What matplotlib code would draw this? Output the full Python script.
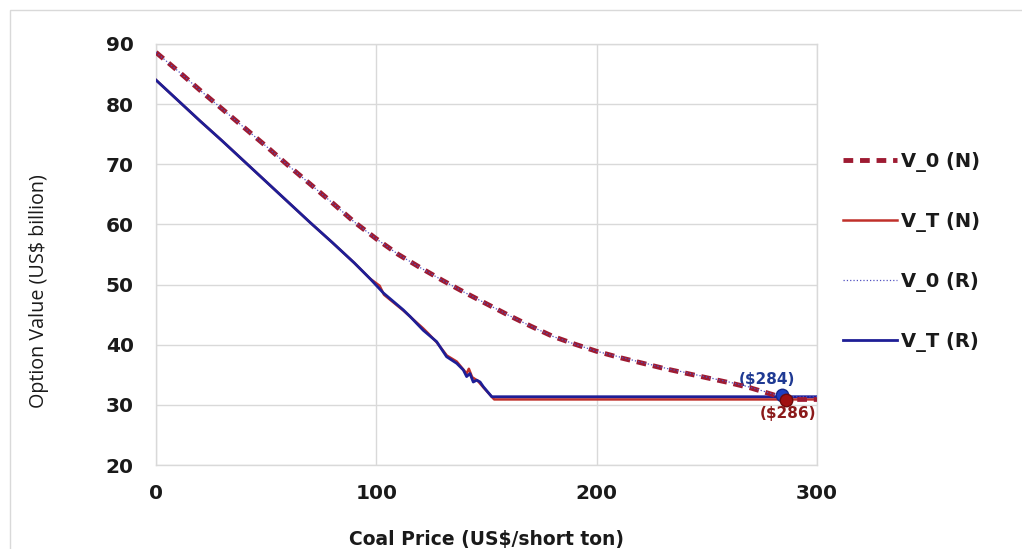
import matplotlib
matplotlib.use("Agg")
import matplotlib.pyplot as plt
from matplotlib.patches import Rectangle

# option value vs coal price
price_v0_n = [0, 10, 20, 30, 40, 50, 60, 70, 80, 90, 100, 110, 120, 130, 140, 150,
              160, 170, 180, 190, 200, 210, 220, 230, 240, 250, 260, 270, 280, 286, 300]
v0_n = [88.6, 85.5, 82.3, 79.2, 76.1, 73.0, 69.8, 66.7, 63.6, 60.4, 57.6, 55.0, 52.8,
        50.7, 48.7, 46.8, 44.9, 43.1, 41.4, 40.1, 38.9, 37.9, 37.0, 36.1, 35.3, 34.5,
        33.7, 32.8, 31.7, 30.9, 30.9]

price_v0_r = [0, 10, 20, 30, 40, 50, 60, 70, 80, 90, 100, 110, 120, 130, 140, 150,
              160, 170, 180, 190, 200, 210, 220, 230, 240, 250, 260, 270, 280, 284, 300]
v0_r = [88.6, 85.5, 82.3, 79.2, 76.1, 73.0, 69.8, 66.7, 63.6, 60.4, 57.6, 55.0, 52.8,
        50.7, 48.7, 46.8, 44.9, 43.1, 41.4, 40.1, 38.9, 38.0, 37.1, 36.2, 35.4, 34.6,
        33.8, 32.9, 31.8, 31.35, 31.35]

price_vt_n = [0, 10, 20, 30, 40, 50, 60, 70, 80, 90, 97.1, 101.5, 103.5, 112.2, 121.3,
              123.5, 127.4, 132.0, 136.5, 139.0, 141.0, 142.0, 143.5, 146.0, 148.6, 153.5, 300]
vt_n = [84.0, 80.6, 77.2, 73.9, 70.5, 67.1, 63.7, 60.3, 57.0, 53.6, 51.0, 49.8, 48.3,
        45.7, 42.7, 41.9, 40.4, 38.2, 37.2, 36.1, 35.2, 36.0, 34.6, 34.0, 32.9, 30.9, 30.9]

price_vt_r = [0, 10, 20, 30, 40, 50, 60, 70, 80, 90, 97.1, 103.2, 112.2, 115.3, 121.3,
              127.4, 131.9, 136.5, 139.5, 141.0, 142.5, 144.0, 145.6, 147.1, 148.6, 152.4, 300]
vt_r = [84.0, 80.6, 77.2, 73.9, 70.5, 67.1, 63.7, 60.3, 57.0, 53.6, 51.0, 48.6, 45.8,
        44.7, 42.4, 40.5, 38.0, 36.9, 35.8, 34.7, 35.2, 33.8, 34.1, 33.8, 33.0, 31.35, 31.35]

# trigger points
trig_r = (284, 31.6)
trig_n = (286, 30.8)

fig = plt.figure(figsize=(10.22, 5.49), dpi=100)
ax = fig.add_axes([0.1526, 0.153, 0.6468, 0.767])

ax.plot(price_vt_n, vt_n, color='#C0302A', lw=1.8, label='V_T (N)', zorder=3)
ax.plot(price_vt_r, vt_r, color='#1E1E96', lw=2.0, label='V_T (R)', zorder=4)
ax.plot(price_v0_n, v0_n, color='#9E1B32', lw=3.5, dashes=(2.0, 1.4), label='V_0 (N)', zorder=5)
ax.plot(price_v0_r, v0_r, color='#5050C0', lw=0.9, linestyle=':', label='V_0 (R)', zorder=6)

ax.plot(*trig_r, 'o', color='#1F3FBF', ms=9, mec='#14288a', zorder=7)
ax.plot(*trig_n, 'o', color='#A01010', ms=9, mec='#6e0a0a', zorder=7)
ax.annotate('($284)', xy=trig_r, xytext=(-11, 11), textcoords='offset points',
            ha='center', va='center', fontsize=11, fontweight='bold', color='#1F3A93')
ax.annotate('($286)', xy=trig_n, xytext=(1, -9.5), textcoords='offset points',
            ha='center', va='center', fontsize=11, fontweight='bold', color='#8B1A1A')

ax.set_xlim(0, 300)
ax.set_ylim(20, 90)
ax.set_xticks([0, 100, 200, 300])
ax.set_yticks(range(20, 91, 10))
ax.grid(True, color='#D9D9D9', lw=1)
ax.set_axisbelow(True)
for s in ax.spines.values():
    s.set_color('#D9D9D9')
    s.set_linewidth(1)
ax.tick_params(length=0, labelsize=14.5, colors='#1a1a1a')
ax.tick_params(axis='y', pad=16)
ax.tick_params(axis='x', pad=14)
for t in ax.get_xticklabels() + ax.get_yticklabels():
    t.set_fontweight('bold')

ax.set_ylabel('Option Value (US$ billion)', fontsize=14.2, family=['Open Sans', 'DejaVu Sans'],
              color='#1a1a1a')
ax.yaxis.set_label_coords(-0.162, 0.413)
ax.set_xlabel('Coal Price (US$/short ton)', fontsize=13.5, fontweight='bold',
              family='DejaVu Sans', color='#1a1a1a')
ax.xaxis.set_label_coords(0.5, -0.155)

h, l = ax.get_legend_handles_labels()
order = [2, 0, 3, 1]
leg = fig.legend([h[i] for i in order], [l[i] for i in order], loc='center left',
                 bbox_to_anchor=(0.825, 0.541), frameon=False, fontsize=14,
                 handlelength=2.75, handletextpad=0.25, labelspacing=2.05,
                 borderpad=0, borderaxespad=0)
for t in leg.get_texts():
    t.set_fontweight('bold')
    t.set_color('#1a1a1a')

fig.patches.append(Rectangle((10 / 1022, -0.1), 1.2, 1 - 10 / 549 + 0.1, transform=fig.transFigure,
                             fill=False, edgecolor='#D9D9D9', lw=1))

fig.savefig('out.png', dpi=100)
